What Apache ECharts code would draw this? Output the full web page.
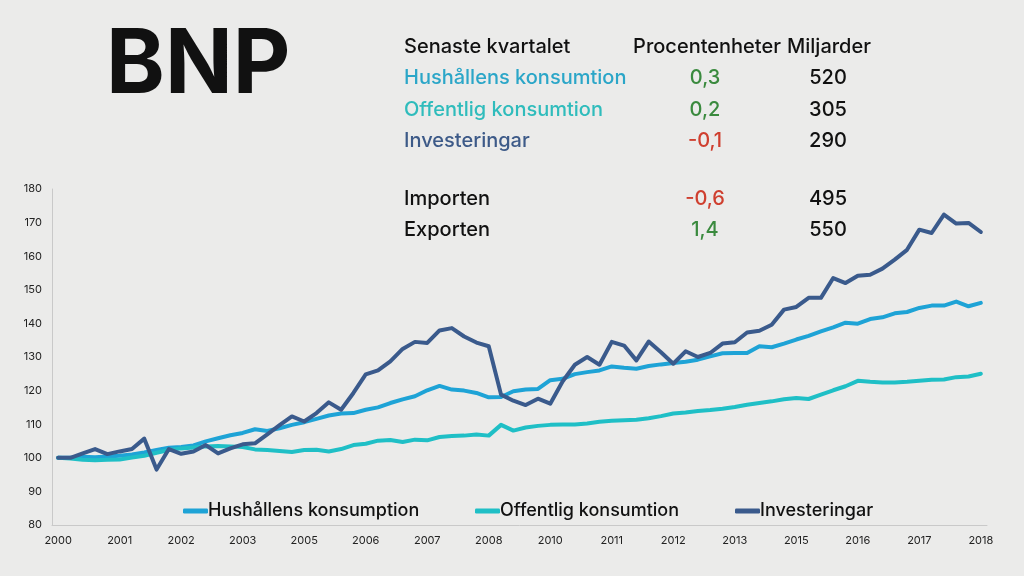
<!DOCTYPE html>
<html>
<head>
<meta charset="utf-8">
<script src="https://cdn.jsdelivr.net/npm/echarts@6/dist/echarts.min.js"></script>
<style>
html,body{margin:0;padding:0;background:#ebebea;}
#chart{width:1024px;height:576px;}
</style>
</head>
<body>
<div id="chart"></div>
<script>
// Quarterly categories 2000 K1 .. 2018 K4
const years = [2000,2001,2002,2003,2004,2005,2006,2007,2008,2009,2010,2011,2012,2013,2014,2015,2016,2017,2018];
const quarters = ['K1','K2','K3','K4'];
const categories = [];
years.forEach(y => quarters.forEach(q => categories.push(y + ' ' + q)));

const seriesNames = ['Hushållens konsumption', 'Offentlig konsumtion', 'Investeringar'];

const hushallens = [
  100,100,100.3,100.2,100.4,100.6,101,101.6,102.3,103,
  103.2,103.7,104.9,105.8,106.7,107.4,108.5,108,108.8,109.8,
  110.6,111.6,112.6,113.2,113.3,114.3,115,116.3,117.4,118.3,
  120.1,121.4,120.3,120,119.3,118,118.1,119.8,120.3,120.5,
  123.1,123.5,124.9,125.5,126,127.2,126.8,126.5,127.3,127.8,
  128.2,128.6,129.2,130.2,131.1,131.2,131.2,133.2,132.9,134,
  135.2,136.3,137.6,138.8,140.2,139.9,141.3,141.8,143,143.4,
  144.6,145.3,145.3,146.5,145.1,146.1
];
const offentlig = [
  100,99.8,99.4,99.3,99.4,99.5,100.1,100.6,101.5,102.3,
  102.8,103.1,103.4,103.5,103.4,103.2,102.5,102.3,102,101.7,
  102.3,102.4,101.9,102.6,103.8,104.2,105.1,105.3,104.7,105.4,
  105.2,106.2,106.5,106.6,106.9,106.6,109.8,108.1,109,109.5,
  109.8,109.9,109.9,110.2,110.7,111,111.2,111.3,111.8,112.4,
  113.2,113.5,113.9,114.2,114.6,115.1,115.8,116.3,116.8,117.4,
  117.8,117.5,118.8,120.1,121.3,122.9,122.6,122.4,122.4,122.6,
  122.9,123.2,123.3,124,124.2,125
];
const investeringar = [
  100,100,101.3,102.6,101.1,101.9,102.6,105.7,96.5,102.6,
  101.2,101.9,103.8,101.3,102.8,104,104.3,107,109.7,112.3,
  110.8,113.3,116.5,114.3,119.3,124.8,126,128.7,132.4,134.5,
  134.2,137.9,138.6,136.1,134.3,133.2,118.8,117,115.7,117.6,
  116.1,122.7,127.7,130,127.7,134.5,133.4,129,134.6,131.4,
  128,131.7,130,131.2,134,134.4,137.3,137.8,139.6,144.1,
  144.9,147.6,147.6,153.5,152,154.2,154.5,156.3,159,161.9,
  167.9,166.9,172.4,169.7,169.9,167.2
];

// Table
const tableTitle = 'BNP';
const tableHeaders = ['Senaste kvartalet', 'Procentenheter', 'Miljarder'];
const tableRowNames = ['Hushållens konsumtion', 'Offentlig konsumtion', 'Investeringar', 'Importen', 'Exporten'];
const tablePct = ['0,3', '0,2', '-0,1', '-0,6', '1,4'];
const tableBn = ['520', '305', '290', '495', '550'];

const lineColors = ['#1ea3d6', '#1fbfc6', '#3a5a8c'];
const rowNameColors = ['#2ba6c8', '#2fbcbc', '#3d5a88', '#111', '#111'];
const pctColor = v => v.startsWith('-') ? '#cf3f2f' : '#3a8a3e';
const rowY = [78, 110, 141, 199, 230];

const FONT = 'Inter, "Liberation Sans", sans-serif';
const TF = '500 20px ' + FONT;

const graphics = [];
graphics.push({type:'text', left:106, top:22, style:{text:tableTitle, font:'700 89px ' + FONT, fill:'#111'}});
graphics.push({type:'text', x:404, y:47, style:{text:tableHeaders[0], font:TF, fill:'#111', textVerticalAlign:'middle'}});
graphics.push({type:'text', x:707, y:47, style:{text:tableHeaders[1], font:TF, fill:'#111', textAlign:'center', textVerticalAlign:'middle'}});
graphics.push({type:'text', x:829, y:47, style:{text:tableHeaders[2], font:TF, fill:'#111', textAlign:'center', textVerticalAlign:'middle'}});
tableRowNames.forEach((n, i) => {
  graphics.push({type:'text', x:404, y:rowY[i], style:{text:n, font:TF, fill:rowNameColors[i], textVerticalAlign:'middle'}});
  graphics.push({type:'text', x:705, y:rowY[i], style:{text:tablePct[i], font:TF, fill:pctColor(tablePct[i]), textAlign:'center', textVerticalAlign:'middle'}});
  graphics.push({type:'text', x:828, y:rowY[i], style:{text:tableBn[i], font:TF, fill:'#111', textAlign:'center', textVerticalAlign:'middle'}});
});

const legendLefts = [183, 475, 735];
const legends = seriesNames.map((n, i) => ({
  data: [n],
  left: legendLefts[i],
  top: 502,
  padding: 0,
  icon: 'roundRect',
  itemWidth: 25,
  itemHeight: 5,
  itemGap: 0,
  textStyle: {fontFamily: FONT, fontSize: 18, fontWeight: 500, color: '#111', padding:[0,0,0,-5]},
  selectedMode: false
}));

const seriesData = [hushallens, offentlig, investeringar];

const chart = echarts.init(document.getElementById('chart'), null, {renderer:'canvas'});
chart.setOption({
  backgroundColor: '#ebebea',
  animation: false,
  grid: {left: 52, right: 37, top: 189, bottom: 51, containLabel: false},
  legend: legends,
  xAxis: {
    type: 'category',
    data: categories,
    boundaryGap: true,
    axisLine: {lineStyle: {color: '#c9c9c9', width: 1}},
    axisTick: {show: false},
    axisLabel: {interval: 4, formatter: v => v.slice(0, 4), color: '#222', fontFamily: FONT, fontSize: 11, margin: 10}
  },
  yAxis: {
    type: 'value',
    min: 80, max: 180, interval: 10,
    axisLine: {show: true, lineStyle: {color: '#c9c9c9', width: 1}},
    axisTick: {show: false},
    splitLine: {show: false},
    axisLabel: {color: '#222', fontFamily: FONT, fontSize: 11, margin: 10}
  },
  series: seriesNames.map((n, i) => ({
    name: n,
    type: 'line',
    data: seriesData[i],
    symbol: 'none',
    lineStyle: {width: 4, color: lineColors[i], join: 'round', cap: 'round'},
    itemStyle: {color: lineColors[i]},
    z: 2 + i
  })),
  graphic: graphics
});
</script>
</body>
</html>
